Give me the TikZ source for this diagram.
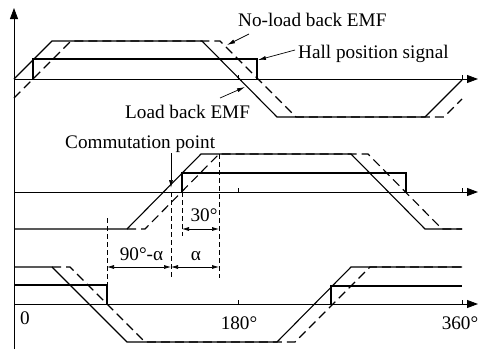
\documentclass[tikz,border=0pt]{standalone}
\usepackage{fontspec}
\setmainfont{Liberation Serif}
\usetikzlibrary{arrows.meta}
\begin{document}
\begin{tikzpicture}[x=1pt,y=-1pt,
  axis/.style={line width=0.8pt, -{Triangle[length=11pt,width=8pt]}},
  load/.style={line width=1.1pt, line join=miter},
  noload/.style={line width=1.1pt, dash pattern=on 9pt off 5pt},
  hall/.style={line width=1.1pt},
  guide/.style={line width=0.7pt, dash pattern=on 5pt off 3pt},
  dim/.style={line width=0.7pt, {Latex[length=7pt,width=4pt]}-{Latex[length=7pt,width=4pt]}},
  callout/.style={line width=0.7pt, -{Latex[length=8pt,width=4pt]}},
  lbl/.style={font=\fontsize{19.2}{23}\selectfont, inner sep=0pt},
  tick/.style={line width=0.7pt}]
\useasboundingbox (0,0) rectangle (479,349);

% axes
\coordinate (o) at (14,349);
\coordinate (yt) at (14,8);
\draw[axis] (o) -- (yt);
\foreach \y/\n in {79/a,192/b,304/c}{
  \coordinate (\n0) at (14,\y);
  \coordinate (\n1) at (478,\y);
  \draw[axis] (\n0) -- (\n1);
  \draw[tick] (238,\y) -- (238,\y-4);
  \draw[tick] (462,\y) -- (462,\y-4);
}

% phase A
\draw[load] (14,79) -- (52,41) -- (202,41) -- (277,117) -- (425,117) -- (462,80);
\draw[noload] (14,98) -- (71,41) -- (220,41) -- (296,117) -- (444,117) -- (462,99);
\draw[hall] (33,79) -- (33,59) -- (257,59) -- (257,79);

% phase B
\draw[load] (14,229) -- (127,229) -- (201,154) -- (351,154) -- (425,229) -- (462,229);
\draw[noload] (127,229) -- (145,229) -- (219,154) -- (368,154) -- (442,229) -- (462,229);
\draw[hall] (182,192) -- (182,173) -- (406,173) -- (406,192);

% phase C
\draw[load] (14,267) -- (52,267) -- (127,342) -- (277,342) -- (351,267) -- (462,267);
\draw[noload] (52,267) -- (70,267) -- (145,342) -- (295,342) -- (370,267) -- (462,267);
\draw[hall] (14,285) -- (107,285) -- (107,304);
\draw[hall] (331,304) -- (331,286) -- (462,286);

% guide lines
\draw[guide] (107,218) -- (107,285);
\draw[guide] (171,192) -- (171,277);
\draw[guide] (182,192) -- (182,236);
\draw[guide] (219,154) -- (219,278);

% commutation arrow
\coordinate (cpS) at (171,153);
\coordinate (cpT) at (171,188);
\draw[callout] (cpS) -- (cpT);

% dimensions
\coordinate (d1) at (107,267);
\coordinate (d2) at (171,267);
\coordinate (d3) at (219,267);
\coordinate (d4) at (182,229);
\coordinate (d5) at (219,229);
\draw[dim] (d4) -- (d5);
\draw[dim] (d1) -- (d2);
\draw[dim] (d2) -- (d3);

% labels
\node[lbl, anchor=base] (t30) at (204,221) {30°};
\node[lbl, anchor=base] (t90) at (141.5,260) {90°-α};
\node[lbl, anchor=base] (ta) at (196,260) {α};
\node[lbl, anchor=base] (t0) at (25,324) {0};
\node[lbl, anchor=base] (t180) at (239,329) {180°};
\node[lbl, anchor=base] (t360) at (460,329) {360°};
\node[lbl, anchor=base west] (tnl) at (238,26.7) {No-load back EMF};
\node[lbl, anchor=base west] (thall) at (298,58.7) {Hall position signal};
\node[lbl, anchor=base west] (tl) at (125,118.3) {Load back EMF};
\node[lbl, anchor=base west] (tcp) at (65,148) {Commutation point};

% callouts
\coordinate (nlS) at (249,34);
\coordinate (nlT) at (227,45);
\coordinate (hS) at (295,50);
\coordinate (hT) at (258,60);
\coordinate (lS) at (220,98);
\coordinate (lT) at (245,87);
\draw[callout] (nlS) -- (nlT);
\draw[callout] (hS) -- (hT);
\draw[callout] (lS) -- (lT);
\end{tikzpicture}
\end{document}
